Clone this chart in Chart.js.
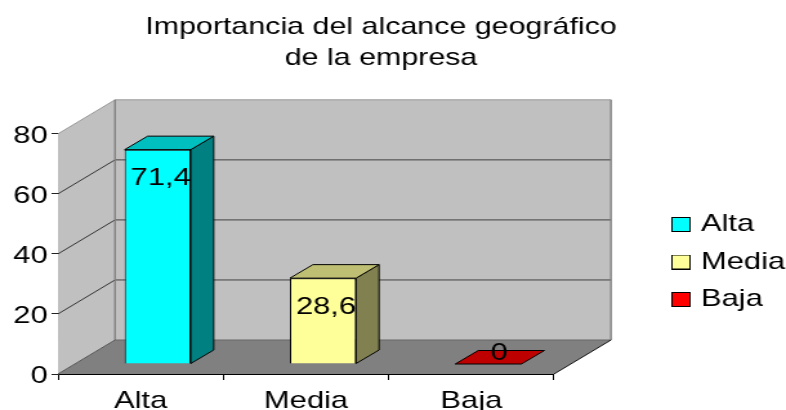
<!DOCTYPE html>
<html><head><meta charset="utf-8">
<style>html,body{margin:0;padding:0;background:#fff;overflow:hidden}
#c{position:absolute;left:0;top:0;width:786px!important;height:410px!important}</style>
<script src="https://cdn.jsdelivr.net/npm/chart.js@4"></script>
</head><body><canvas id="c" width="610" height="410"></canvas>
<script>
const categories = ['Alta','Media','Baja'];
const values = [71.4,28.6,0];
const yTicks = [0,20,40,60,80];
const titleLines = ['Importancia del alcance geográfico','de la empresa'];
const frontColors = ['#00ffff','#ffff99','#ff0000'];
const topColors = ['#00bfbf','#bfbf73','#bf0000'];
const sideColors = ['#008080','#808050','#800000'];
const SX = 786/610;
const WALL = {dx:57/SX, dy:-34};
const BAR = {dx:17/SX, dy:-10, sx:23/SX, sy:-13.5};
function poly(ctx,pts,fill,stroke,lw){ctx.beginPath();pts.forEach((p,i)=>i?ctx.lineTo(p[0],p[1]):ctx.moveTo(p[0],p[1]));ctx.closePath();
  if(fill){ctx.fillStyle=fill;ctx.fill();} if(stroke){ctx.strokeStyle=stroke;ctx.lineWidth=lw||1;ctx.stroke();}}
function seg(ctx,a,b,c,d,col,lw){ctx.beginPath();ctx.moveTo(a,b);ctx.lineTo(c,d);ctx.strokeStyle=col;ctx.lineWidth=lw;ctx.stroke();}
function swatch(col){const s=document.createElement('canvas');s.width=15;s.height=15;const g=s.getContext('2d');
  g.fillStyle=col;g.fillRect(0,0,15,15);g.strokeStyle='#000';g.lineWidth=1;g.strokeRect(0.5,0.5,14,14);return s;}
const swatches = frontColors.map(swatch);
const scene = {
  id:'scene',
  afterLayout(chart){
    chart.titleBlock.right -= 24/SX;
    chart.legend.top += 57; chart.legend.bottom += 57;
    chart.legend.left += 4/SX;
    const ys=chart.scales.y, drawLabels=ys.drawLabels.bind(ys);
    ys.drawLabels=(area)=>{chart.ctx.save();chart.ctx.translate(0,2.5);drawLabels(area);chart.ctx.restore();};
  },
  beforeDatasetsDraw(chart){
    const {ctx,scales:{x,y}}=chart, L=x.left,R=x.right,B=y.getPixelForValue(0),T=y.getPixelForValue(80),dx=WALL.dx,dy=WALL.dy;
    ctx.save();
    poly(ctx,[[L,T],[L+dx,T+dy],[L+dx,B+dy],[L,B]],'#c0c0c0');
    poly(ctx,[[L+dx,T+dy],[R+dx,T+dy],[R+dx,B+dy],[L+dx,B+dy]],'#c0c0c0');
    poly(ctx,[[L,B],[R,B],[R+dx,B+dy],[L+dx,B+dy]],'#808080');
    yTicks.slice(1,-1).forEach(v=>{const p=y.getPixelForValue(v);
      seg(ctx,L,p,L+dx,p+dy,'#222',0.9);
      seg(ctx,L+dx,p+dy,R+dx,p+dy,'#333',0.9);});
    seg(ctx,L,T,L+dx,T+dy,'#999',1);
    seg(ctx,L+dx,T+dy,R+dx,T+dy,'#999',1);
    seg(ctx,L+dx,T+dy,L+dx,B+dy,'#808080',1.4);
    seg(ctx,R+dx,T+dy,R+dx,B+dy,'#808080',1.4);
    seg(ctx,L+dx,B+dy,R+dx,B+dy,'#666',1);
    seg(ctx,L,B,L+dx,B+dy,'#555',1);
    seg(ctx,R,B,R+dx,B+dy,'#111',1);
    ctx.restore();
  },
  beforeDatasetDraw(chart){
    const ctx=chart.ctx; ctx.save(); ctx.translate(BAR.dx,BAR.dy);
    chart.getDatasetMeta(0).data.forEach((b,i)=>{
      const l=b.x-b.width/2,r=b.x+b.width/2,t=b.y,bo=b.base,sx=BAR.sx,sy=BAR.sy;
      if(bo-t>0.5) poly(ctx,[[r,t],[r+sx,t+sy],[r+sx,bo+sy],[r,bo]],sideColors[i],'#000',1);
      poly(ctx,[[l,t],[r,t],[r+sx,t+sy],[l+sx,t+sy]],topColors[i],'#000',1);
    });
  },
  afterDatasetDraw(chart){
    const ctx=chart.ctx;
    chart.getDatasetMeta(0).data.forEach((b,i)=>{
      const h=b.base-b.y, ly=h>30?b.y+29:b.y-11, lx=b.x+(h>30?3/SX:11/SX);
      ctx.fillStyle='#000';ctx.font='24px "Liberation Sans"';ctx.textAlign='center';ctx.textBaseline='middle';
      ctx.fillText(String(values[i]).replace('.',','),lx,ly);
    });
    ctx.restore();
  }
};
const chart = new Chart(document.getElementById('c'),{
  type:'bar',
  data:{labels:categories,datasets:[{data:values,backgroundColor:frontColors,borderColor:'#000',borderWidth:1,barPercentage:0.4,categoryPercentage:1,clip:false}]},
  plugins:[scene],
  options:{
    responsive:false,animation:false,devicePixelRatio:1,
    scales:{
      x:{offset:true,grid:{drawOnChartArea:false,drawTicks:true,tickLength:6,color:'#000'},border:{color:'#000',width:1},
         ticks:{color:'#000',font:{size:24,family:'"Liberation Sans"'},padding:7,maxRotation:0},afterFit(s){s.height=36;}},
      y:{min:0,max:80,position:'left',grid:{drawOnChartArea:false,drawTicks:true,tickLength:5,color:'#222'},border:{color:'#333',width:1},
         ticks:{stepSize:20,color:'#000',font:{size:24,family:'"Liberation Sans"'},padding:3},afterFit(s){s.width=58/SX;}},
      gap:{position:'right',display:true,grid:{display:false},border:{display:false},ticks:{display:false},afterFit(s){s.width=101/SX;}}
    },
    plugins:{
      title:{display:true,text:titleLines,color:'#000',font:{size:23.6,weight:'normal',lineHeight:1.31,family:'"Liberation Sans"'},padding:{top:12,bottom:60}},
      legend:{position:'right',labels:{color:'#000',font:{size:24,family:'"Liberation Sans"'},usePointStyle:true,pointStyleWidth:7,boxHeight:15,padding:13.5,
        generateLabels:()=>categories.map((t,i)=>({text:t,fillStyle:frontColors[i],strokeStyle:'#000',lineWidth:1,pointStyle:swatches[i],index:i,hidden:false}))}},
      tooltip:{enabled:false}
    }
  }
});
document.getElementById('c').style.setProperty('width','786px','important');
document.getElementById('c').style.setProperty('height','410px','important');
</script></body></html>
